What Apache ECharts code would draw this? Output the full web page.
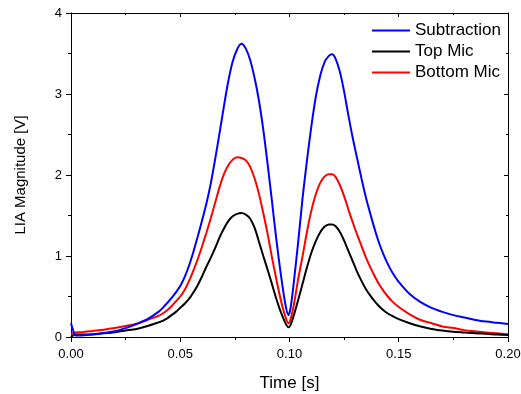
<!DOCTYPE html>
<html>
<head>
<meta charset="utf-8">
<script src="https://cdn.jsdelivr.net/npm/echarts@6/dist/echarts.min.js"></script>
<style>
html,body{margin:0;padding:0;background:#fff;}
#chart{width:521px;height:394px;}
</style>
</head>
<body>
<div id="chart"></div>
<script>
const times = [0, 0.001, 0.002, 0.005, 0.01, 0.015, 0.02, 0.025, 0.03, 0.035,
  0.04, 0.042, 0.044, 0.046, 0.048, 0.05, 0.052, 0.054, 0.056, 0.058, 0.06, 0.062, 0.064, 0.066, 0.068, 0.07, 0.072, 0.074, 0.076, 0.078,
  0.08, 0.082, 0.084, 0.086, 0.088, 0.09, 0.092, 0.094, 0.096, 0.098, 0.0995, 0.1005,
  0.102, 0.104, 0.106, 0.108, 0.11, 0.112, 0.114, 0.116, 0.118, 0.1195,
  0.121, 0.123, 0.125, 0.127, 0.129, 0.131, 0.133, 0.135, 0.137, 0.139, 0.141, 0.143, 0.145, 0.147,
  0.15, 0.155, 0.16, 0.165, 0.17, 0.175, 0.18, 0.185, 0.19, 0.195, 0.2];
const subtraction = [0.17, 0.08, 0.02, 0.02, 0.03, 0.05, 0.07, 0.11, 0.16, 0.22,
  0.31, 0.36, 0.42, 0.48, 0.55, 0.63, 0.74, 0.88, 1.05, 1.24, 1.44, 1.65, 1.9, 2.2, 2.52, 2.85, 3.16, 3.4, 3.55, 3.62,
  3.56, 3.42, 3.2, 2.92, 2.56, 2.13, 1.67, 1.2, 0.78, 0.42, 0.27, 0.36,
  0.68, 1.18, 1.72, 2.18, 2.6, 2.96, 3.22, 3.39, 3.47, 3.49,
  3.44, 3.28, 3.03, 2.73, 2.45, 2.2, 1.95, 1.72, 1.52, 1.33, 1.16, 1.02, 0.9, 0.8,
  0.68, 0.53, 0.43, 0.36, 0.31, 0.27, 0.24, 0.21, 0.19, 0.175, 0.16];
const topMic = [0.0, 0.02, 0.03, 0.03, 0.035, 0.045, 0.06, 0.08, 0.1, 0.135,
  0.18, 0.2, 0.23, 0.27, 0.31, 0.36, 0.41, 0.47, 0.55, 0.64, 0.75, 0.87, 0.98, 1.1, 1.23, 1.34, 1.43, 1.49, 1.52, 1.53,
  1.51, 1.46, 1.35, 1.18, 1.0, 0.83, 0.65, 0.47, 0.31, 0.18, 0.12, 0.15,
  0.27, 0.46, 0.66, 0.86, 1.04, 1.18, 1.29, 1.36, 1.39, 1.39,
  1.37, 1.3, 1.19, 1.06, 0.93, 0.8, 0.69, 0.59, 0.51, 0.44, 0.38, 0.33, 0.29, 0.26,
  0.22, 0.17, 0.13, 0.1, 0.08, 0.065, 0.055, 0.045, 0.04, 0.03, 0.025];
const bottomMic = [0.03, 0.05, 0.055, 0.06, 0.075, 0.09, 0.11, 0.135, 0.165, 0.21,
  0.26, 0.29, 0.33, 0.38, 0.44, 0.5, 0.58, 0.69, 0.82, 0.96, 1.12, 1.29, 1.47, 1.66, 1.85, 2.01, 2.12, 2.19, 2.22, 2.21,
  2.18, 2.1, 1.96, 1.77, 1.53, 1.27, 0.98, 0.71, 0.46, 0.26, 0.17, 0.22,
  0.4, 0.72, 1.0, 1.3, 1.56, 1.76, 1.9, 1.98, 2.01, 2.01,
  1.98, 1.88, 1.74, 1.57, 1.41, 1.26, 1.12, 0.98, 0.86, 0.75, 0.65, 0.57, 0.5, 0.44,
  0.37, 0.28, 0.21, 0.17, 0.13, 0.11, 0.085, 0.07, 0.055, 0.045, 0.035];
const seriesNames = ['Subtraction', 'Top Mic', 'Bottom Mic'];
const xTickLabels = ['0.00', '0.05', '0.10', '0.15', '0.20'];
const yTickLabels = ['0', '1', '2', '3', '4'];

const pair = arr => times.map((t, i) => [t, arr[i]]);
const FONT = 'Liberation Sans, Arial, sans-serif';
const chart = echarts.init(document.getElementById('chart'), null, {renderer: 'canvas'});
const lineStyle = c => ({color: c, width: 2});
const xLbl = v => { const i = Math.round(v / 0.05); return Math.abs(v - i * 0.05) < 1e-9 ? xTickLabels[i] : ''; };
const yLbl = v => { const i = Math.round(v); return Math.abs(v - i) < 1e-9 ? yTickLabels[i] : ''; };

chart.setOption({
  animation: false,
  grid: {left: 71, right: 13, top: 13, bottom: 57, containLabel: false, outerBoundsMode: 'none'},
  legend: {
    left: 367, top: 17, orient: 'vertical', itemGap: 4,
    itemWidth: 38, itemHeight: 2, icon: 'rect',
    textStyle: {fontFamily: FONT, fontSize: 17, color: '#000'},
    data: seriesNames
  },
  xAxis: [{
    type: 'value', min: 0, max: 0.2, interval: 0.05,
    name: 'Time [s]', nameLocation: 'middle', nameGap: 38,
    nameTextStyle: {fontFamily: FONT, fontSize: 17, color: '#000'},
    axisLine: {lineStyle: {color: '#000', width: 1}},
    axisTick: {length: 5, lineStyle: {color: '#000'}},
    minorTick: {show: true, splitNumber: 2, length: 3, lineStyle: {color: '#000'}},
    splitLine: {show: false},
    axisLabel: {fontFamily: FONT, fontSize: 13, color: '#000', margin: 11, formatter: xLbl}
  }, {
    type: 'value', min: 0, max: 0.2, interval: 0.05, position: 'top',
    axisLine: {show: true, onZero: false, lineStyle: {color: '#000', width: 1}},
    axisTick: {show: true, inside: true, length: 4, lineStyle: {color: '#000'}},
    minorTick: {show: true, splitNumber: 2, length: 2, lineStyle: {color: '#000'}},
    splitLine: {show: false}, axisLabel: {show: false}
  }],
  yAxis: [{
    type: 'value', min: 0, max: 4, interval: 1,
    name: 'LIA Magnitude [V]', nameLocation: 'middle', nameGap: 43,
    nameTextStyle: {fontFamily: FONT, fontSize: 15, color: '#000'},
    axisLine: {show: true, lineStyle: {color: '#000', width: 1}},
    axisTick: {show: true, length: 5, lineStyle: {color: '#000'}},
    minorTick: {show: true, splitNumber: 2, length: 3, lineStyle: {color: '#000'}},
    splitLine: {show: false},
    axisLabel: {fontFamily: FONT, fontSize: 13, color: '#000', margin: 9, formatter: yLbl}
  }, {
    type: 'value', min: 0, max: 4, interval: 1, position: 'right',
    axisLine: {show: true, onZero: false, lineStyle: {color: '#000', width: 1}},
    axisTick: {show: true, inside: true, length: 4, lineStyle: {color: '#000'}},
    minorTick: {show: true, splitNumber: 2, length: 2, lineStyle: {color: '#000'}},
    splitLine: {show: false}, axisLabel: {show: false}
  }],
  series: [
    {name: seriesNames[2], type: 'line', data: pair(bottomMic), smooth: 0.3, showSymbol: false, color: '#ff0000', lineStyle: lineStyle('#ff0000'), z: 2},
    {name: seriesNames[1], type: 'line', data: pair(topMic), smooth: 0.3, showSymbol: false, color: '#000000', lineStyle: lineStyle('#000000'), z: 3},
    {name: seriesNames[0], type: 'line', data: pair(subtraction), smooth: 0.3, showSymbol: false, color: '#0000ff', lineStyle: lineStyle('#0000ff'), z: 4}
  ]
});
</script>
</body>
</html>
